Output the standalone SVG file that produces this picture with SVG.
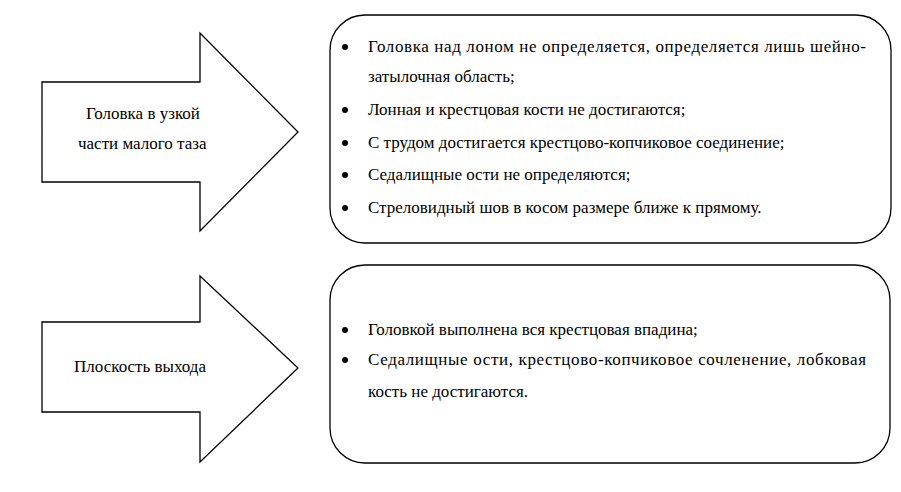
<svg xmlns="http://www.w3.org/2000/svg" width="901" height="492" viewBox="0 0 901 492">
<style>
.s{fill:#fff;stroke:#000;stroke-width:1.3}
text{font-family:'Liberation Serif','Times New Roman','DejaVu Serif',serif;font-size:17px;fill:#000}
</style>
<defs><circle id="b" r="3" fill="#000"/></defs>
<rect width="901" height="492" fill="#fff"/>
<g id="arrow1"><polygon class="s" points="42,82 200,82 200,33 298,132 200,231 200,182 42,182"/>
<text x="86" y="119">Головка в узкой</text><text x="78" y="149">части малого таза</text></g>
<g id="arrow2"><polygon class="s" points="42,322 200,322 200,276 298,368 200,462 200,412 42,412"/>
<text x="74" y="372">Плоскость выхода</text></g>
<g id="box1"><rect class="s" x="330" y="15" width="561" height="228" rx="35"/>
<use href="#b" x="345" y="47"/><text x="368" y="52" textLength="498" lengthAdjust="spacing">Головка над лоном не определяется, определяется лишь шейно-</text>
<text x="368" y="82">затылочная область;</text>
<use href="#b" x="345" y="110"/><text x="368" y="115">Лонная и крестцовая кости не достигаются;</text>
<use href="#b" x="345" y="143"/><text x="368" y="148">С трудом достигается крестцово-копчиковое соединение;</text>
<use href="#b" x="345" y="175"/><text x="368" y="180">Седалищные ости не определяются;</text>
<use href="#b" x="345" y="208"/><text x="368" y="213">Стреловидный шов в косом размере ближе к прямому.</text></g>
<g id="box2"><rect class="s" x="330" y="265" width="560" height="198" rx="35"/>
<use href="#b" x="345" y="330"/><text x="368" y="335">Головкой выполнена вся крестцовая впадина;</text>
<use href="#b" x="345" y="360"/><text x="368" y="365" textLength="498" lengthAdjust="spacing">Седалищные ости, крестцово-копчиковое сочленение, лобковая</text>
<text x="368" y="397">кость не достигаются.</text></g>
<g id="connectors"></g>
</svg>
